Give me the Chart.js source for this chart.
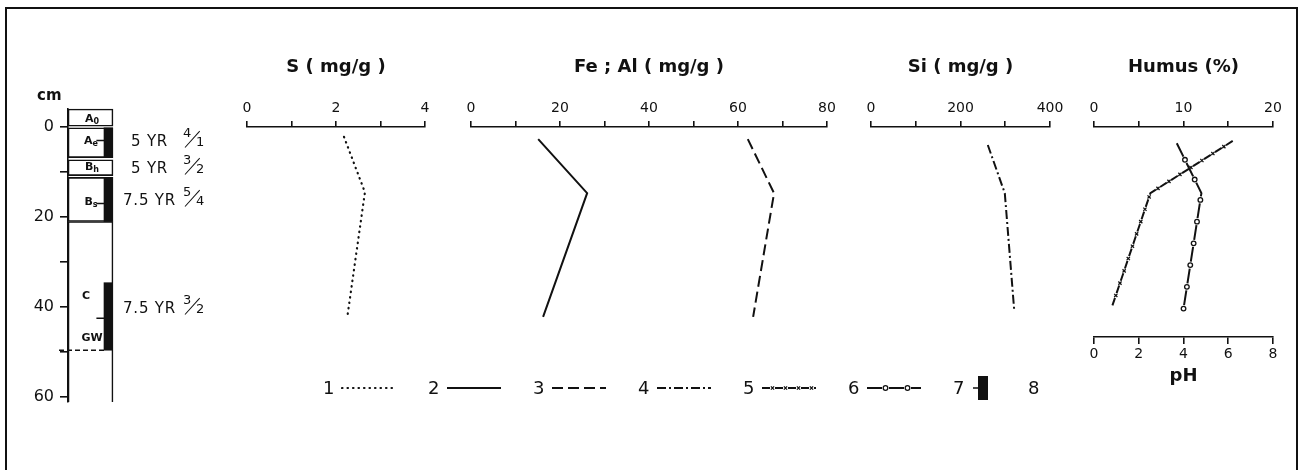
<!DOCTYPE html>
<html>
<head>
<meta charset="utf-8">
<title>Soil profile</title>
<script src="https://cdn.jsdelivr.net/npm/chart.js@4.4.1/dist/chart.umd.min.js"></script>
<style>
  html, body { margin: 0; padding: 0; background: #fff; }
  body { position: relative; width: 1302px; height: 470px; overflow: hidden;
         font-family: "DejaVu Sans", sans-serif; color: #111; }
  .frame { position: absolute; left: 5px; top: 7px; width: 1289px; height: 520px; border: 2px solid #111; }
  canvas { position: absolute; z-index: 1; }
  .t { position: absolute; z-index: 3; white-space: nowrap; line-height: 1; transform: translate(-50%, -50%); }
  .hz { font-size: 11px; font-weight: bold; }
  .hz sub { font-size: 8px; vertical-align: -2px; }
  .cm { position: absolute; z-index: 3; left: 37px; top: 88px; font-size: 15px; font-weight: bold; line-height: 1; }
  .mun { position: absolute; z-index: 3; white-space: nowrap; line-height: 1; font-size: 15px; letter-spacing: 0.8px; transform: translateY(-50%); }
  .fr { position: absolute; z-index: 3; left: 183px; width: 22px; height: 0; line-height: 1; }
  .fr i { position: absolute; font-style: normal; }
  .fr .n { left: 0; top: -15px; font-size: 13px; }
  .fr .d { left: 13px; top: -6px; font-size: 13px; }
  .fr .s { left: 2px; top: 6px; width: 22px; height: 0; border-top: 1.6px solid #111;
           transform-origin: left center; transform: rotate(-48deg); }
  .leg { position: absolute; z-index: 3; top: 378px; font-size: 18px; line-height: 20px; }
</style>
</head>
<body>
<div class="frame"></div>

<div class="cm">cm</div>
<div class="t hz" style="left:92px;top:119px">A<sub>0</sub></div>
<div class="t hz" style="left:91px;top:141px">A<sub>e</sub></div>
<div class="t hz" style="left:92px;top:167px">B<sub>h</sub></div>
<div class="t hz" style="left:91px;top:202px">B<sub>s</sub></div>
<div class="t hz" style="left:86px;top:295px">C</div>
<div class="t hz" style="left:92px;top:337px">GW</div>

<div class="mun" style="left:131px;top:141px">5 YR</div>
<div class="fr" style="top:141px"><i class="n">4</i><i class="s"></i><i class="d">1</i></div>
<div class="mun" style="left:131px;top:168px">5 YR</div>
<div class="fr" style="top:168px"><i class="n">3</i><i class="s"></i><i class="d">2</i></div>
<div class="mun" style="left:123px;top:200px">7.5 YR</div>
<div class="fr" style="top:200px"><i class="n">5</i><i class="s"></i><i class="d">4</i></div>
<div class="mun" style="left:123px;top:308px">7.5 YR</div>
<div class="fr" style="top:308px"><i class="n">3</i><i class="s"></i><i class="d">2</i></div>

<script>
// ---- data (depth in cm, values in axis units) ----
const sDepth = [2.2, 14.5, 42.5];
const sVal = [2.18, 2.65, 2.25];
const feDepth = [2.7, 14.7, 42.2];
const feVal = [15.1, 26.1, 16.2];
const alDepth = [2.7, 14.7, 42.2];
const alVal = [62.2, 68.1, 63.4];
const siDepth = [4.0, 14.7, 40.7];
const siVal = [261, 299, 320];
const humusDepth = [3.1, 14.7, 40.0];
const humusVal = [15.5, 6.3, 2.0];
const phDepth = [3.6, 14.7, 40.4];
const phVal = [3.7, 4.8, 4.0];

// soil profile column
const horizons = ['A0', 'Ae', 'Bh', 'Bs', 'C'];
const horizonTop = [-4, 0, 7.3, 11.2, 21];
const horizonBottom = [0, 6.8, 10.8, 21, 70];
const darkTop = [0, 11.2, 34.6];
const darkBottom = [6.8, 21, 49.6];
const sampleMarks = [3, 17, 42.5];
const groundWater = 49.6;

// axis ticks
const depthTicks = [0, 10, 20, 30, 40, 50, 60];
const depthLabeled = [0, 20, 40, 60];
const sTicks = [0, 1, 2, 3, 4];
const sLabeled = [0, 2, 4];
const feTicks = [0, 10, 20, 30, 40, 50, 60, 70, 80];
const feLabeled = [0, 20, 40, 60, 80];
const siTicks = [0, 100, 200, 300, 400];
const siLabeled = [0, 200, 400];
const humusTicks = [0, 5, 10, 15, 20];
const humusLabeled = [0, 10, 20];
const phTicks = [0, 2, 4, 6, 8];

const legendLabels = ['1', '2', '3', '4', '5', '6', '7', '8'];

// ---- look ----
const INK = '#111';
Chart.defaults.font.family = '"DejaVu Sans", sans-serif';
Chart.defaults.color = INK;

const CM = 4.5;        // px per cm of depth
const ZERO_Y = 127;    // pixel row of depth 0
const PAD = 22;

const styles = {
  s:     {dash: [0.5, 5], width: 2.2, cap: 'round'},
  fe:    {dash: [], width: 2},
  al:    {dash: [11, 5], width: 2},
  si:    {dash: [9, 3, 2, 3], width: 2},
  humus: {dash: [8, 5], width: 2, decor: {kind: 'cross', offset: 10.5, step: 13}},
  ph:    {dash: [15, 7], width: 2, decor: {kind: 'ring', offset: 18.5, step: 22}}
};

function makeCanvas(left, top, w, h) {
  const c = document.createElement('canvas');
  c.width = w; c.height = h;
  c.style.left = left + 'px'; c.style.top = top + 'px';
  document.body.appendChild(c);
  return c;
}

function mark(ctx, x, y, kind) {
  ctx.save();
  ctx.setLineDash([]);
  ctx.strokeStyle = INK;
  ctx.lineWidth = 1.3;
  ctx.beginPath();
  if (kind === 'ring') {
    ctx.arc(x, y, 2.3, 0, Math.PI * 2);
    ctx.fillStyle = '#fff';
    ctx.fill();
  } else {
    const r = 1.6;
    ctx.moveTo(x - r, y - r); ctx.lineTo(x + r, y + r);
    ctx.moveTo(x + r, y - r); ctx.lineTo(x - r, y + r);
  }
  ctx.stroke();
  ctx.restore();
}

// walk along a polyline and put the line-style marks on it
function decorate(ctx, pts, decor) {
  let carry = decor.offset;
  for (let k = 0; k < pts.length - 1; k++) {
    const a = pts[k], b = pts[k + 1];
    const len = Math.hypot(b.x - a.x, b.y - a.y);
    let d = carry;
    while (d <= len) {
      const t = d / len;
      mark(ctx, a.x + (b.x - a.x) * t, a.y + (b.y - a.y) * t, decor.kind);
      d += decor.step;
    }
    carry = d - len;
  }
}

const decorPlugin = {
  id: 'decor',
  afterDatasetsDraw(chart) {
    chart.data.datasets.forEach((ds, i) => {
      if (!ds.decor) return;
      const pts = chart.getDatasetMeta(i).data.map(p => ({x: p.x, y: p.y}));
      decorate(chart.ctx, pts, ds.decor);
    });
  }
};

function series(depth, values, st, axis) {
  return {
    type: 'scatter', showLine: true, xAxisID: axis || 'x',
    data: depth.map((d, i) => ({x: values[i], y: d})),
    borderColor: INK, borderWidth: st.width, borderDash: st.dash,
    borderCapStyle: st.cap || 'butt', borderJoinStyle: 'miter',
    pointRadius: 0, pointHoverRadius: 0, tension: 0, clip: false,
    decor: st.decor
  };
}

function valueAxis(position, ticks, labeled, title, height) {
  const top = position === 'top';
  return {
    type: 'linear', axis: 'x', position,
    min: ticks[0], max: ticks[ticks.length - 1],
    afterBuildTicks: s => { s.ticks = ticks.map(v => ({value: v})); },
    afterFit: s => { s.height = height; },
    border: {display: true, color: INK, width: 1.6},
    grid: {drawOnChartArea: false, drawTicks: true, tickLength: top ? 6 : 7, color: INK, lineWidth: 1.6},
    ticks: {color: INK, padding: top ? 4 : 2, autoSkip: false, maxRotation: 0,
            font: {size: 14},
            callback: v => labeled.includes(v) ? String(v) : ''},
    title: {display: true, text: title, color: INK,
            font: {size: 18, weight: 'bold'},
            padding: top ? {top: 57, bottom: 0} : {top: 0, bottom: 0}}
  };
}

function depthAxis(max) {
  return {type: 'linear', reverse: true, min: 0, max, display: false};
}

function panel(x0, x1, height, padBottom, scales, datasets) {
  const c = makeCanvas(x0 - PAD, 0, x1 - x0 + 2 * PAD, height);
  return new Chart(c, {
    type: 'scatter',
    data: {datasets},
    options: {
      responsive: false, animation: false, events: [],
      layout: {padding: {left: PAD, right: PAD, top: 0, bottom: padBottom}},
      plugins: {legend: {display: false}, tooltip: {enabled: false}},
      scales
    },
    plugins: [decorPlugin]
  });
}

// S
panel(247, 425, ZERO_Y + 60 * CM + 20, 20,
  {x: valueAxis('top', sTicks, sLabeled, 'S ( mg/g )', ZERO_Y), y: depthAxis(60)},
  [series(sDepth, sVal, styles.s)]);

// Fe ; Al
panel(471, 827, ZERO_Y + 60 * CM + 20, 20,
  {x: valueAxis('top', feTicks, feLabeled, 'Fe ; Al ( mg/g )', ZERO_Y), y: depthAxis(60)},
  [series(feDepth, feVal, styles.fe), series(alDepth, alVal, styles.al)]);

// Si
panel(871, 1050, ZERO_Y + 60 * CM + 20, 20,
  {x: valueAxis('top', siTicks, siLabeled, 'Si ( mg/g )', ZERO_Y), y: depthAxis(60)},
  [series(siDepth, siVal, styles.si)]);

// Humus and pH (pH axis at the bottom)
const phAxisDepth = 210 / CM;
panel(1094, 1273, ZERO_Y + 210 + 50 + 10, 10,
  {
    x: valueAxis('top', humusTicks, humusLabeled, 'Humus (%)', ZERO_Y),
    xPh: valueAxis('bottom', phTicks, phTicks, 'pH', 50),
    y: depthAxis(phAxisDepth)
  },
  [series(humusDepth, humusVal, styles.humus), series(phDepth, phVal, styles.ph, 'xPh')]);

// soil profile column
const PROF_MIN = -4, PROF_MAX = 61.11, COL_LEFT = 68;
const profCanvas = makeCanvas(0, ZERO_Y + PROF_MIN * CM - 20, 230, Math.round((PROF_MAX - PROF_MIN) * CM) + 40);
new Chart(profCanvas, {
  type: 'bar',
  data: {
    datasets: [
      {type: 'scatter', data: sampleMarks.map(d => ({x: 0.72, y: d})), pointStyle: 'line',
       pointRadius: 4, pointBorderColor: INK, pointBorderWidth: 1.5, showLine: false, order: 0, clip: false},
      {type: 'line', data: [{x: -0.2, y: groundWater}, {x: 0.8, y: groundWater}],
       borderColor: INK, borderWidth: 1.5, borderDash: [5, 3], pointRadius: 0, clip: false, order: 0},
      {type: 'bar', label: 'dark', data: darkTop.map((t, i) => ({x: 0.9, y: [t, darkBottom[i]]})),
       backgroundColor: INK, borderWidth: 0, barThickness: 9, grouped: false, order: 1},
      {type: 'bar', label: 'horizons', data: horizonTop.map((t, i) => ({x: 0.5, y: [t, horizonBottom[i]]})),
       backgroundColor: '#fff', borderColor: INK, borderWidth: 1.6, borderSkipped: false,
       barThickness: 45, grouped: false, order: 2, clip: {left: 2, top: 2, right: 2, bottom: 0}}
    ]
  },
  options: {
    responsive: false, animation: false, events: [],
    layout: {padding: {left: 0, right: 230 - COL_LEFT - 45, top: 20, bottom: 20}},
    plugins: {legend: {display: false}, tooltip: {enabled: false}},
    scales: {
      x: {type: 'linear', min: 0, max: 1, display: false, offset: false},
      y: {
        type: 'linear', position: 'left', reverse: true, min: PROF_MIN, max: PROF_MAX,
        afterBuildTicks: s => { s.ticks = depthTicks.map(v => ({value: v})); },
        afterFit: s => { s.width = COL_LEFT; },
        border: {display: true, color: INK, width: 1.6},
        grid: {drawOnChartArea: false, tickLength: 8, color: INK, lineWidth: 1.6},
        ticks: {color: INK, padding: 6, font: {size: 16}, autoSkip: false,
                callback: v => depthLabeled.includes(v) ? String(v) : ''}
      }
    }
  }
});

// legend
const legendStyles = [styles.s, styles.fe, styles.al, styles.si, styles.humus, styles.ph, 'bar', null];
legendLabels.forEach((lab, i) => {
  const left = i < 7 ? 323 + i * 105 : 1028;
  const t = document.createElement('div');
  t.className = 'leg';
  t.style.left = left + 'px';
  t.textContent = lab;
  document.body.appendChild(t);
  const st = legendStyles[i];
  if (!st) return;
  if (st === 'bar') {
    const g = makeCanvas(left + 20, 376, 16, 26).getContext('2d');
    g.fillStyle = INK;
    g.fillRect(5, 0, 10, 24);
    g.strokeStyle = INK; g.lineWidth = 1.5;
    g.beginPath(); g.moveTo(0, 12); g.lineTo(5, 12); g.stroke();
    return;
  }
  const g = makeCanvas(left + 18, 382, 56, 12).getContext('2d');
  g.strokeStyle = INK;
  g.lineWidth = st.width;
  g.lineCap = st.cap || 'butt';
  g.setLineDash(st.dash);
  g.beginPath(); g.moveTo(1, 6); g.lineTo(55, 6); g.stroke();
  if (st.decor) decorate(g, [{x: 1, y: 6}, {x: 55, y: 6}], st.decor);
});
</script>
</body>
</html>
